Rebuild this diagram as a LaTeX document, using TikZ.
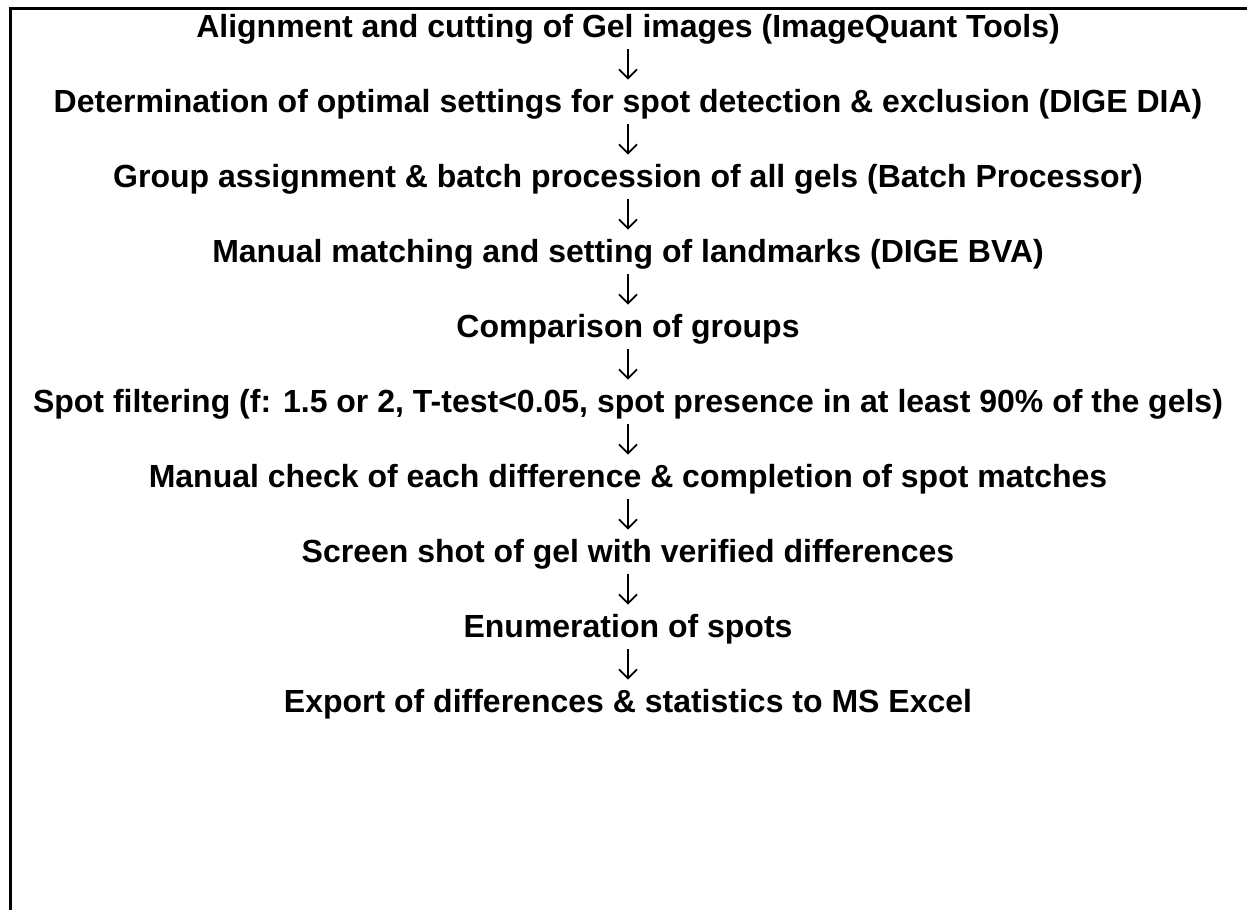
\documentclass[tikz,border=0pt]{standalone}
\usepackage{fontspec}
\setmainfont{Liberation Sans}
\usetikzlibrary{positioning,arrows.meta}
\begin{document}
\begin{tikzpicture}[x=1pt,y=1pt,>={Straight Barb[length=4.5pt,width=9pt]},
  node distance=22.2pt,
  stage/.style={font=\fontsize{16pt}{18pt}\selectfont\bfseries,inner sep=0pt,text height=11.5pt,text depth=3.4pt},
  flow/.style={->,line width=0.9pt,shorten <=2.5pt,shorten >=4.5pt}]
\useasboundingbox (0,0) rectangle (623.5,-455);
% frame, top and left only
\draw[line width=1.5pt] (4.25,-4) -- (623.5,-4) (5,-3.25) -- (5,-455);
\node[stage,anchor=base] (s1) at (314,-18.5) {Alignment and cutting of Gel images (ImageQuant Tools)};
\node[stage,below=of s1] (s2) {Determination of optimal settings for spot detection \& exclusion (DIGE DIA)};
\node[stage,below=of s2] (s3) {Group assignment \& batch procession of all gels (Batch Processor)};
\node[stage,below=of s3] (s4) {Manual matching and setting of landmarks (DIGE BVA)};
\node[stage,below=of s4] (s5) {Comparison of groups};
\node[stage,below=of s5] (s6) {Spot filtering (f: 1.5 or 2, T-test<0.05, spot presence in at least 90\% of the gels)};
\node[stage,below=of s6] (s7) {Manual check of each difference \& completion of spot matches};
\node[stage,below=of s7] (s8) {Screen shot of gel with verified differences};
\node[stage,below=of s8] (s9) {Enumeration of spots};
\node[stage,below=of s9] (s10) {Export of differences \& statistics to MS Excel};
% arrows between the steps
\foreach \i [count=\j from 2] in {1,...,9}
  \draw[flow] (s\i.south) -- (s\j.north);
\end{tikzpicture}
\end{document}
